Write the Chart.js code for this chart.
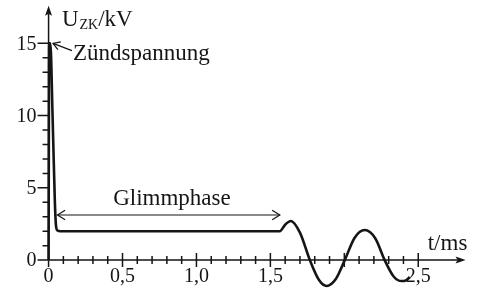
<!DOCTYPE html>
<html>
<head>
<meta charset="utf-8">
<script src="https://cdn.jsdelivr.net/npm/chart.js@4.4.1/dist/chart.umd.min.js"></script>
<style>
html, body { margin: 0; padding: 0; background: #fff; }
#wrap { width: 478px; height: 289px; }
</style>
</head>
<body>
<div id="wrap"><canvas id="myChart" width="478" height="289"></canvas></div>
<script>
// Zündspannung / Glimmphase curve
const timeMs = [0, 0.004, 0.012, 0.027, 0.042, 0.05, 0.06, 0.08, 1.564, 1.6, 1.638, 1.70, 1.767, 1.83, 1.881, 1.94, 2.003, 2.07, 2.138, 2.21, 2.273, 2.335, 2.388, 2.42, 2.442];
const voltageKV = [0, 15.0, 15.0, 10.0, 4.2, 2.4, 2.05, 2.0, 2.0, 2.45, 2.71, 1.9, 0, -1.4, -1.79, -1.35, 0, 1.55, 2.08, 1.5, 0, -1.15, -1.45, -1.38, -1.17];

const xTicks = [0, 0.5, 1.0, 1.5, 2.0, 2.5];
const xTickLabels = ['0', '0,5', '1,0', '1,5', '', '2,5'];
const yTicks = [0, 5, 10, 15];
const yTickLabels = ['0', '5', '10', '15'];

const serif = '"Liberation Serif", "Times New Roman", serif';
const ink = '#151515';

function openArrow(ctx, fx, fy, tx, ty, len) {
  const a = Math.atan2(ty - fy, tx - fx);
  ctx.beginPath();
  ctx.moveTo(tx - len * Math.cos(a - 0.55), ty - len * Math.sin(a - 0.55));
  ctx.lineTo(tx, ty);
  ctx.lineTo(tx - len * Math.cos(a + 0.55), ty - len * Math.sin(a + 0.55));
  ctx.stroke();
}

const axesPlugin = {
  id: 'axesPlugin',
  beforeDatasetsDraw(chart) {
    const { ctx, scales: { x, y } } = chart;
    const x0 = x.getPixelForValue(0), y0 = y.getPixelForValue(0);
    const xEnd = x.getPixelForValue(2.82), yTop = y.getPixelForValue(17.6);
    ctx.save();
    ctx.strokeStyle = ink;
    ctx.fillStyle = ink;
    ctx.lineWidth = 1.5;

    // axis lines
    ctx.beginPath();
    ctx.moveTo(x0, y0 + 7); ctx.lineTo(x0, yTop + 8);
    ctx.moveTo(x0 - 11, y0); ctx.lineTo(xEnd - 8, y0);
    ctx.stroke();
    // arrow heads
    ctx.beginPath();
    ctx.moveTo(x0, yTop); ctx.lineTo(x0 - 3.5, yTop + 10); ctx.lineTo(x0, yTop + 8); ctx.lineTo(x0 + 3.5, yTop + 10);
    ctx.closePath(); ctx.fill();
    ctx.beginPath();
    ctx.moveTo(xEnd, y0); ctx.lineTo(xEnd - 10, y0 - 3.5); ctx.lineTo(xEnd - 8, y0); ctx.lineTo(xEnd - 10, y0 + 3.5);
    ctx.closePath(); ctx.fill();

    // y ticks
    ctx.beginPath();
    for (let v = 1; v <= 15; v++) {
      const py = y.getPixelForValue(v);
      const major = yTicks.includes(v);
      ctx.moveTo(x0 - (major ? 11 : 6), py); ctx.lineTo(x0, py);
    }
    // x ticks
    for (let i = 1; i <= 25; i++) {
      const t = i / 10;
      const px = x.getPixelForValue(t);
      const major = xTicks.some(m => Math.abs(m - t) < 1e-6);
      const h = major ? 7 : 4;
      ctx.moveTo(px, y0 - h); ctx.lineTo(px, y0 + h);
    }
    ctx.stroke();

    // tick labels
    ctx.font = '20px ' + serif;
    ctx.textAlign = 'right';
    ctx.textBaseline = 'middle';
    yTicks.forEach((v, i) => ctx.fillText(yTickLabels[i], x0 - 12, y.getPixelForValue(v) + 1));
    ctx.textAlign = 'center';
    ctx.textBaseline = 'alphabetic';
    xTicks.forEach((t, i) => ctx.fillText(xTickLabels[i], x.getPixelForValue(t), y0 + 22));
    ctx.restore();
  },
  afterDraw(chart) {
    const { ctx, scales: { x, y } } = chart;
    ctx.save();
    ctx.fillStyle = ink;
    ctx.strokeStyle = ink;
    ctx.lineWidth = 1.2;

    // axis titles
    ctx.font = '23px ' + serif;
    ctx.textAlign = 'left';
    let px = x.getPixelForValue(0.09), py = y.getPixelForValue(16.2);
    ctx.fillText('U', px, py);
    px += ctx.measureText('U').width + 1;
    ctx.font = '14px ' + serif;
    ctx.fillText('ZK', px, py + 3);
    px += ctx.measureText('ZK').width;
    ctx.font = '23px ' + serif;
    ctx.fillText('/kV', px, py);
    ctx.fillText('t/ms', x.getPixelForValue(2.564), y.getPixelForValue(0.7));

    // Zündspannung
    ctx.fillText('Zündspannung', x.getPixelForValue(0.165), y.getPixelForValue(13.85));
    const ax1 = x.getPixelForValue(0.158), ay1 = y.getPixelForValue(14.5);
    const ax2 = x.getPixelForValue(0.03), ay2 = y.getPixelForValue(15.0);
    ctx.beginPath(); ctx.moveTo(ax1, ay1); ctx.lineTo(ax2, ay2); ctx.stroke();
    openArrow(ctx, ax1, ay1, ax2, ay2, 8);

    // Glimmphase
    ctx.textAlign = 'center';
    ctx.fillText('Glimmphase', x.getPixelForValue(0.834), y.getPixelForValue(3.8));
    const gy = y.getPixelForValue(3.12);
    const g1 = x.getPixelForValue(0.06), g2 = x.getPixelForValue(1.564);
    ctx.beginPath(); ctx.moveTo(g1, gy); ctx.lineTo(g2, gy); ctx.stroke();
    openArrow(ctx, g2, gy, g1, gy, 9);
    openArrow(ctx, g1, gy, g2, gy, 9);
    ctx.restore();
  }
};

const ctx = document.getElementById('myChart');

new Chart(ctx, {
  type: 'line',
  data: {
    datasets: [{
      data: timeMs.map((t, i) => ({ x: t, y: voltageKV[i] })),
      borderColor: ink,
      borderWidth: 2.6,
      pointRadius: 0,
      cubicInterpolationMode: 'monotone',
      clip: false
    }]
  },
  options: {
    responsive: false,
    animation: false,
    events: [],
    layout: { padding: { left: 19, right: 8, top: 0, bottom: 0 } },
    plugins: { legend: { display: false }, tooltip: { enabled: false } },
    scales: {
      x: { type: 'linear', min: -0.2, max: 2.85, display: false },
      y: { min: -2, max: 18, display: false }
    }
  },
  plugins: [axesPlugin]
});
</script>
</body>
</html>
